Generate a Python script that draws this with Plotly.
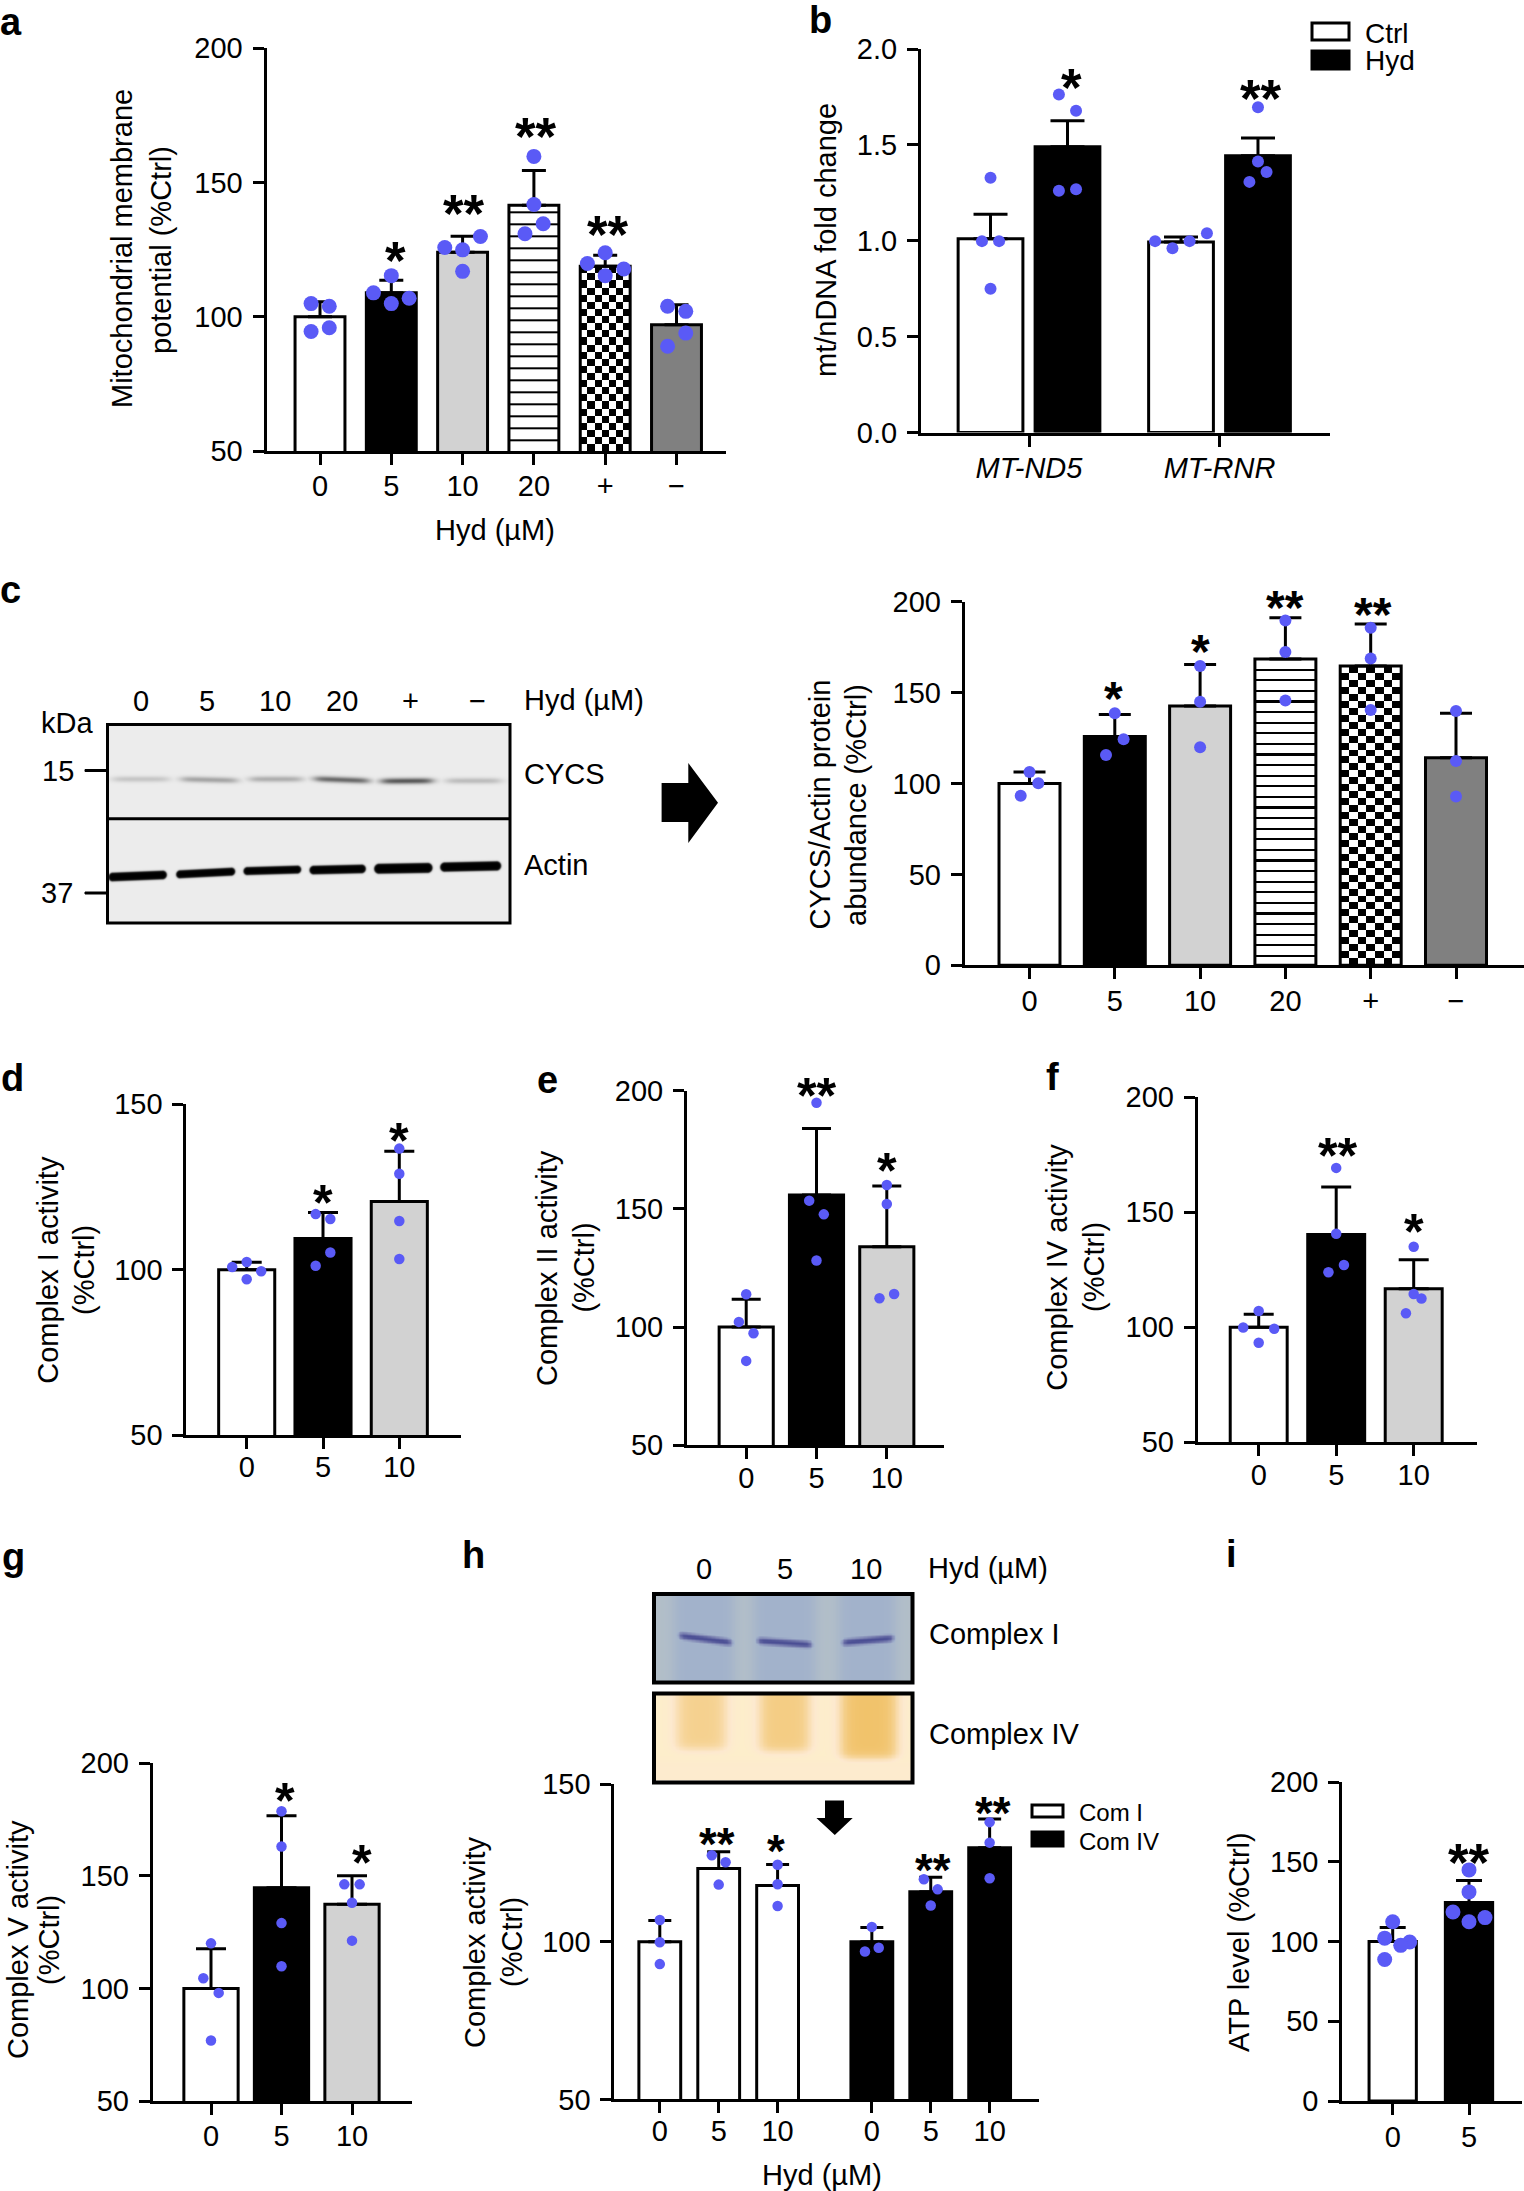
import numpy as np
import plotly.graph_objects as go

W, H = 1524, 2191
FONT = "Liberation Sans"
DOT = "#5a5af6"
WHITE, BLACK, GRAY, DARK, TRANSP = "#ffffff", "#000000", "#d2d2d2", "#808080", "rgba(0,0,0,0)"

# ---------------- data ----------------
a_labels = ["0", "5", "10", "20", "+", "\u2212"]
a_vals = [100, 108.9, 124, 141.5, 118.8, 97]
a_tops = [105.6, 113.6, 130, 154.5, 122.9, 104.5]
a_pts = [[104.9, 103.9, 94.5, 95.9], [108.9, 115.3, 106.9, 104.9], [125.8, 129.9, 124.9, 116.9],
         [159.7, 141.8, 134.6, 130.9], [119.8, 123.8, 117.8, 115.3], [103.9, 102, 93.9, 89]]
a_off = [[-.125, .13, -.125, .13], [-.25, 0, .25, 0], [-.25, .25, 0, 0],
         [0, 0, .13, -.125], [-.25, 0, .26, 0], [-.125, .13, .13, -.125]]

b_labels = ["<i>MT-ND5</i>", "<i>MT-RNR</i>"]
b_vals = [1.011, 1.49, .993, 1.443]
b_tops = [1.138, 1.626, 1.02, 1.536]
b_pts = [[1.328, .998, .998, .75], [1.763, 1.678, 1.261, 1.268],
         [.998, .961, .998, 1.039], [1.696, 1.413, 1.359, 1.307]]
b_off = [[0, -.045, .045, 0], [-.045, .045, -.045, .045], [-.136, -.045, .045, .136], [0, 0, .045, -.045]]

c_labels = ["0", "5", "10", "20", "+", "\u2212"]
c_vals = [100, 125.8, 142.6, 168.5, 164.6, 114.2]
c_tops = [106.3, 138, 165.5, 191.2, 187.7, 138.6]
c_pts = [[106.3, 100.1, 93.3], [138.6, 124.3, 115.7], [164.6, 145, 119.9],
         [189.6, 172.3, 145.7], [185.7, 168.8, 140.4], [139.9, 112.4, 92.8]]
c_off = [[0, .103, -.103], [0, .103, -.103], [0, 0, 0], [0, 0, 0], [0, 0, 0], [0, 0, 0]]

d_labels = ["0", "5", "10"]
d_vals = [100, 109.4, 120.6]
d_tops = [102.2, 117.3, 135.8]
d_pts = [[102.3, 100.8, 99.5, 97.1], [116.8, 115.3, 105.2, 101.2], [136.6, 129, 114.7, 103.2]]
d_off = [[0, -.19, .19, 0], [-.096, .096, .096, -.096], [0, 0, 0, 0]]

e_labels = ["0", "5", "10"]
e_vals = [100, 155.9, 134]
e_tops = [111.8, 184, 159.7]
e_pts = [[113.9, 102.2, 97.4, 85.7], [194.9, 153.5, 147.7, 128.2], [160.1, 152.1, 114, 112.2]]
e_off = [[0, -.104, .104, 0], [0, -.104, .104, 0], [0, 0, .104, -.104]]

f_labels = ["0", "5", "10"]
f_vals = [100, 140.4, 116.8]
f_tops = [105.7, 161, 129.4]
f_pts = [[107.1, 99.9, 99.4, 93.3], [169.3, 140.7, 127.1, 123.9], [135, 114.5, 112.5, 106.1]]
f_off = [[0, -.2, .2, 0], [0, 0, .1, -.1], [0, 0, .1, -.1]]

g_labels = ["0", "5", "10"]
g_vals = [100, 144.7, 137.4]
g_tops = [117.6, 176.7, 150]
g_pts = [[120, 104.5, 98, 76.9], [178.7, 163, 129, 109.8], [146.2, 146.2, 138, 121.2]]
g_off = [[0, -.109, .109, 0], [0, 0, 0, 0], [-.109, .109, 0, 0]]

h_labels = ["0", "5", "10", "0", "5", "10"]
h_vals = [100, 123.2, 117.8, 100, 115.8, 129.8]
h_tops = [106.7, 128.5, 124.5, 104.5, 120.4, 138.9]
h_pts = [[106.9, 99.8, 92.9], [127.4, 125.2, 118.1], [124.4, 118.2, 111.3],
         [104.7, 98.1, 96.9], [119.8, 116.6, 111.5], [137.9, 131.4, 120.1]]
h_off = [[0, 0, 0], [-.117, .117, 0], [0, 0, 0], [0, .117, -.117], [-.117, .117, 0], [0, 0, 0]]

i_labels = ["0", "5"]
i_vals = [100, 124.5]
i_tops = [108.7, 138.3]
i_pts = [[112.4, 102.1, 99.7, 97.6, 88.7], [144.9, 131.1, 118.5, 115, 112.4]]
i_off = [[0, -.105, .223, .105, -.105], [0, 0, -.21, .21, 0]]

FIVE = [WHITE, BLACK, GRAY, TRANSP, TRANSP, DARK]

# ---------------- helpers ----------------
traces, shapes, notes, axes = [], [], [], {}


def px(x):
    return x / W


def py(y):
    return 1 - y / H


def T(x, y, text, size=29, anchor="center", angle=0, bold=False):
    notes.append(dict(x=px(x), y=py(y), xref="paper", yref="paper", text=f"<b>{text}</b>" if bold else text,
                      showarrow=False, xanchor=anchor, yanchor="middle", textangle=angle, borderpad=0,
                      font=dict(family=FONT, size=size, color=BLACK)))


def star(x, y, n=1, size=44):
    s = size * 1.2
    T(x, y + 0.13 * s, "*" * n, size=s, bold=True)


def poly(points, fill=BLACK):
    d = "M" + " L".join(f"{px(a):.5f},{py(b):.5f}" for a, b in points) + " Z"
    shapes.append(dict(type="path", path=d, xref="paper", yref="paper", fillcolor=fill, line=dict(width=0)))


def box(x0, y0, x1, y1, fill=TRANSP, lw=3):
    shapes.append(dict(type="rect", xref="paper", yref="paper", x0=px(x0), x1=px(x1), y0=py(y0), y1=py(y1),
                       fillcolor=fill, line=dict(color=BLACK, width=lw)))


def panel(i, vals, tops, pts, off, xs, tickx, labels, geo, colors=None, stripe=None, period=12,
          check=None, width=.72, msize=11, cap=15, yticks=(), ytext=None, fs=29, lw=3, xstand=-4):
    left, right, top, bot, t0, step = geo
    ymin, ymax = yticks[0], yticks[-1]
    sfx = "" if i == 1 else str(i)
    xr = [tickx[0] - (t0 - left) / step, tickx[0] + (right - t0) / step]
    tick = dict(ticks="outside", ticklen=11, tickwidth=lw, tickcolor=BLACK, showline=True, linewidth=lw,
                linecolor=BLACK, showgrid=False, zeroline=False, automargin=False,
                tickfont=dict(family=FONT, size=fs, color=BLACK))
    axes[f"xaxis{sfx}"] = dict(domain=[px(left), px(right)], range=xr, anchor=f"y{sfx}", tickmode="array",
                               tickvals=tickx, ticktext=labels, fixedrange=True, ticklabelstandoff=xstand, **tick)
    axes[f"yaxis{sfx}"] = dict(domain=[py(bot), py(top)], range=[ymin, ymax], anchor=f"x{sfx}", tickmode="array",
                               tickvals=list(yticks), ticktext=ytext or [str(v) for v in yticks], fixedrange=True,
                               ticklabelstandoff=4, **tick)
    n = len(vals)
    colors = colors or [WHITE] * n
    upp = (ymax - ymin) / (bot - top)  # data units per pixel
    if stripe is not None:
        xe = [xs[stripe] - width / 2, xs[stripe] + width / 2]
        hpx = (vals[stripe] - ymin) / upp
        ye, z, pos = [ymin], [], 0.0
        while pos < hpx:
            pos = min(pos + period - 2.2, hpx)
            ye.append(ymin + pos * upp)
            z.append([0, 0])
            if pos < hpx:
                pos = min(pos + 2.2, hpx)
                ye.append(ymin + pos * upp)
                z.append([1, 1])
        xe = [xe[0], xs[stripe], xe[1]]
        traces.append(go.Heatmap(x=xe, y=ye, z=z, zmin=0, zmax=1, showscale=False, hoverinfo="skip",
                                 colorscale=[[0, WHITE], [1, BLACK]], xaxis=f"x{sfx}", yaxis=f"y{sfx}"))
    if check is not None:
        xe = np.linspace(xs[check] - width / 2, xs[check] + width / 2, 8)
        rows = max(1, int(round((vals[check] - ymin) / upp / 7)))
        ye = np.linspace(ymin, vals[check], rows + 1)
        z = [[(r + c) % 2 for c in range(7)] for r in range(rows)]
        traces.append(go.Heatmap(x=xe, y=ye, z=z, zmin=0, zmax=1, showscale=False, hoverinfo="skip",
                                 colorscale=[[0, WHITE], [1, BLACK]], xaxis=f"x{sfx}", yaxis=f"y{sfx}"))
    traces.append(go.Bar(x=xs, y=vals, width=width, xaxis=f"x{sfx}", yaxis=f"y{sfx}", showlegend=False,
                         marker=dict(color=colors, line=dict(color=BLACK, width=lw)),
                         error_y=dict(type="data", symmetric=False, array=[t - v for t, v in zip(tops, vals)],
                                      arrayminus=[0] * n, color=BLACK, thickness=lw, width=cap)))
    dx = [x + o for x, os, ps in zip(xs, off, pts) for o, _ in zip(os, ps)]
    dy = [p for ps in pts for p in ps]
    traces.append(go.Scatter(x=dx, y=dy, mode="markers", xaxis=f"x{sfx}", yaxis=f"y{sfx}", showlegend=False,
                             cliponaxis=False, marker=dict(color=DOT, size=msize, line=dict(width=0))))


def hidden_axes(i, x0, x1, y0, y1, xr, yr):
    axes[f"xaxis{i}"] = dict(domain=[px(x0), px(x1)], range=xr, visible=False, anchor=f"y{i}", fixedrange=True)
    axes[f"yaxis{i}"] = dict(domain=[py(y1), py(y0)], range=yr, visible=False, anchor=f"x{i}", fixedrange=True)


def soft(v, a, b, s):
    return 1 / (1 + np.exp(-(v - a) / s)) * 1 / (1 + np.exp((v - b) / s))


# ---------------- panels ----------------
R6 = list(range(6))
R3 = list(range(3))
panel(1, a_vals, a_tops, a_pts, a_off, R6, R6, a_labels, (266.5, 726, 48.2, 451, 320, 71.3), FIVE, 3, 12,
      check=4, width=.7, msize=15, cap=12, yticks=(50, 100, 150, 200), xstand=-4)
panel(2, b_vals, b_tops, b_pts, b_off, [-.202, .202, .798, 1.202], [0, 1], b_labels,
      (921, 1330, 49, 432.5, 1029, 190.5), [WHITE, BLACK, WHITE, BLACK], width=.34, msize=12, cap=17,
      yticks=(0, .5, 1, 1.5, 2), ytext=["0.0", "0.5", "1.0", "1.5", "2.0"], xstand=-3)
panel(3, c_vals, c_tops, c_pts, c_off, R6, R6, c_labels, (964.7, 1524, 601.7, 965.3, 1029.5, 85.3), FIVE, 3, 10.6,
      check=4, width=.715, msize=12, cap=16, yticks=(0, 50, 100, 150, 200), xstand=-3)
panel(4, d_vals, d_tops, d_pts, d_off, R3, R3, d_labels, (186.4, 461, 1104.3, 1435, 246.7, 76.3),
      [WHITE, BLACK, GRAY], width=.735, msize=10.5, cap=15, yticks=(50, 100, 150), xstand=-7)
panel(5, e_vals, e_tops, e_pts, e_off, R3, R3, e_labels, (687, 944, 1090.7, 1445.3, 746.2, 70.3),
      [WHITE, BLACK, GRAY], width=.77, msize=10.5, cap=14.5, yticks=(50, 100, 150, 200), xstand=-6)
panel(6, f_vals, f_tops, f_pts, f_off, R3, R3, f_labels, (1197.7, 1477, 1097.3, 1442.3, 1258.7, 77.5),
      [WHITE, BLACK, GRAY], width=.735, msize=10.5, cap=15, yticks=(50, 100, 150, 200), xstand=-6)
panel(7, g_vals, g_tops, g_pts, g_off, R3, R3, g_labels, (152.7, 411.7, 1763.2, 2101, 211, 70.5),
      [WHITE, BLACK, GRAY], width=.77, msize=10.5, cap=15, yticks=(50, 100, 150, 200), xstand=-4)
h_x = [0, 1, 2, 3.6, 4.6, 5.6]
panel(8, h_vals, h_tops, h_pts, h_off, h_x, h_x, h_labels, (614.4, 1038.6, 1784, 2099.4, 659.8, 58.9),
      [WHITE] * 3 + [BLACK] * 3, width=.71, msize=10.5, cap=11.5, yticks=(50, 100, 150), xstand=-7)
panel(9, i_vals, i_tops, i_pts, i_off, [0, 1], [0, 1], i_labels, (1342.3, 1522, 1782, 2101, 1392.7, 76.3),
      [WHITE, BLACK], width=.62, msize=15, cap=13, yticks=(0, 50, 100, 150, 200), xstand=-3)

# ---------------- text ----------------
for s, x, y in [("a", 11, 22), ("b", 820, 20), ("c", 10, 590), ("d", 12, 1078), ("e", 547, 1080), ("f", 1052, 1077),
                ("g", 13, 1557), ("h", 473, 1555), ("i", 1231, 1554)]:
    T(x, y, s, size=38, bold=True)

T(122, 249, "Mitochondrial membrane", angle=-90)
T(161, 250, "potential (%Ctrl)", angle=-90)
T(495, 530, "Hyd (\u00b5M)")
T(826, 240, "mt/nDNA fold change", angle=-90)
T(819.5, 805, "CYCS/Actin protein", angle=-90)
T(856, 805, "abundance (%Ctrl)", angle=-90)
T(47.8, 1270, "Complex I activity", angle=-90)
T(84, 1270, "(%Ctrl)", angle=-90)
T(547, 1268, "Complex II activity", angle=-90)
T(583.6, 1268, "(%Ctrl)", angle=-90)
T(1056.7, 1267, "Complex IV activity", angle=-90)
T(1094, 1267, "(%Ctrl)", angle=-90)
T(18, 1940, "Complex V activity", angle=-90)
T(49, 1940, "(%Ctrl)", angle=-90)
T(475, 1942, "Complex activity", angle=-90)
T(512, 1942, "(%Ctrl)", angle=-90)
T(1239, 1942, "ATP level (%Ctrl)", angle=-90)
T(822, 2175, "Hyd (\u00b5M)")

# stars
star(395, 254); star(464, 207, 2); star(536, 130, 2); star(608, 228, 2)
star(1071, 81); star(1261, 92, 2)
star(1113, 692, 1, 40); star(1200, 645, 1, 40); star(1285, 601, 2, 40); star(1373, 608, 2, 40)
star(323, 1196, 1, 42); star(399, 1134, 1, 42)
star(817, 1089, 2, 42); star(887, 1164, 1, 42)
star(1338, 1149, 2, 42); star(1414, 1225, 1, 42)
star(285, 1794, 1, 42); star(362, 1856, 1, 42)
star(717, 1839, 2, 38); star(776, 1846, 1, 38); star(933.5, 1865, 2, 38); star(993, 1808, 2, 38)
star(1469, 1856, 2, 44)

# legends
box(1312, 23, 1349, 40, WHITE)
box(1312, 51, 1349, 69, BLACK)
T(1364, 33, "Ctrl", size=28, anchor="left")
T(1364, 61, "Hyd", size=28, anchor="left")
box(1032, 1805, 1063, 1817, WHITE)
box(1032, 1832, 1063, 1846, BLACK)
T(1077.6, 1812, "Com I", size=24, anchor="left")
T(1077.6, 1841, "Com IV", size=24, anchor="left")

# arrows
poly([(661.6, 783), (688.3, 783), (688.3, 763), (718, 802.7), (688.3, 843), (688.3, 822), (661.6, 822)])
poly([(825, 1800.6), (844, 1800.6), (844, 1818), (852.7, 1818), (834.8, 1835), (816.4, 1818), (825, 1818)])

# ---------------- western blot (panel c) ----------------
for s, x in zip(c_labels, [140.6, 207.5, 275, 342, 410, 477]):
    T(x, 701, s)
T(522.5, 700, "Hyd (\u00b5M)", anchor="left")
T(67, 723, "kDa")
T(58, 771, "15")
T(57, 893, "37")
T(522.5, 774, "CYCS", anchor="left")
T(522.5, 865, "Actin", anchor="left")
box(85, 769.5, 107, 771.5, BLACK, 1)
box(85, 892, 107, 894, BLACK, 1)

gx = np.arange(22, 1232, 3.0)
gy = np.arange(15, 608, 3.0)
XX, YY = np.meshgrid(gx, gy)
Z = np.zeros_like(XX)
cycs_bands = [(40, 205, 176, 176, .16), (245, 410, 176, 180, .3), (450, 605, 176, 176, .26),
              (645, 805, 175, 181, .55), (845, 995, 182, 181, .62), (1040, 1200, 181, 181, .2)]
actin_bands = [(25, 200, 470, 463, 13), (228, 405, 462, 453, 12), (430, 603, 452, 447, 12),
               (628, 797, 449, 445, 13), (822, 997, 445, 442, 15), (1020, 1203, 440, 436, 14)]
for a, b, y0, y1, st in cycs_bands:
    cy = y0 + (y1 - y0) * (XX - a) / (b - a)
    Z = np.maximum(Z, st * soft(XX, a, b, 10) * np.exp(-((YY - cy) / 9) ** 2))
for a, b, y0, y1, th in actin_bands:
    cy = y0 + (y1 - y0) * (XX - a) / (b - a)
    ddx = np.maximum(np.maximum(a + th - XX, XX - (b - th)), 0)
    dist = np.sqrt(ddx ** 2 + (YY - cy) ** 2)
    Z = np.maximum(Z, 1 / (1 + np.exp((dist - th) / 1.5)))
hidden_axes(10, 107, 510, 725, 922, [22, 1230], [607, 16])
traces.append(go.Heatmap(x=gx, y=gy, z=np.round(Z, 3), zmin=0, zmax=1, zsmooth="best", showscale=False, hoverinfo="skip",
                         colorscale=[[0, "#ececec"], [1, "#000000"]], xaxis="x10", yaxis="y10"))
box(107.5, 724.5, 510, 923, lw=3)
shapes.append(dict(type="line", xref="paper", yref="paper", x0=px(107.5), x1=px(510), y0=py(818.7), y1=py(818.7),
                   line=dict(color=BLACK, width=3)))

# ---------------- gels (panel h) ----------------
for s, x in zip(["0", "5", "10"], [704, 784.7, 865.5]):
    T(x, 1569, s)
T(926.6, 1568, "Hyd (\u00b5M)", anchor="left")
T(928.4, 1634, "Complex I", anchor="left")
T(928.4, 1734, "Complex IV", anchor="left")

bx = np.arange(30, 802, 4.0)
by = np.arange(30, 292, 4.0)
BX, BY = np.meshgrid(bx, by)
B = np.zeros_like(BX)
for a, b in [(85, 265), (325, 510), (580, 750)]:
    B = np.maximum(B, .22 * soft(BX, a, b, 10))
B = B + .03
for a, b, y0, y1 in [(100, 260, 150, 172), (335, 500, 166, 178), (590, 745, 172, 158)]:
    cy = y0 + (y1 - y0) * (BX - a) / (b - a)
    B = np.maximum(B, .95 * soft(BX, a, b, 5) * np.exp(-((BY - cy) / 14) ** 2))
hidden_axes(11, 655, 911.7, 1595, 1681.7, [30, 800], [290, 30])
traces.append(go.Heatmap(x=bx, y=by, z=np.round(B, 3), zmin=0, zmax=1, zsmooth="best", showscale=False, hoverinfo="skip",
                         colorscale=[[0, "#b4c0c8"], [.25, "#a2b2cb"], [.6, "#7f86b4"], [1, "#43468f"]],
                         xaxis="x11", yaxis="y11"))
box(654, 1594, 912.5, 1682.5, lw=4)

oy = np.arange(330, 588, 4.0)
OX, OY = np.meshgrid(bx, oy)
O = .07 * soft(OY, 525, 600, 8)
for a, b, y1, st in [(95, 240, 490, .5), (345, 490, 495, .6), (590, 750, 515, .82)]:
    O = np.maximum(O, st * soft(OX, a, b, 12) * soft(OY, 300, y1, 8))
hidden_axes(12, 655, 911.7, 1695, 1780.5, [30, 800], [585, 330])
traces.append(go.Heatmap(x=bx, y=oy, z=np.round(O, 3), zmin=0, zmax=1, zsmooth="best", showscale=False, hoverinfo="skip",
                         colorscale=[[0, "#fdeecb"], [.1, "#fde9cf"], [.5, "#f5d18f"], [1, "#efbb57"]],
                         xaxis="x12", yaxis="y12"))
box(654, 1693.5, 912.5, 1782.5, lw=4)

fig = go.Figure(traces)
fig.update_layout(template="none", width=W, height=H, margin=dict(l=0, r=0, t=0, b=0, pad=0), autosize=False, showlegend=False,
                  paper_bgcolor=WHITE, plot_bgcolor=WHITE, barmode="overlay",
                  font=dict(family=FONT, color=BLACK), shapes=shapes, annotations=notes, **axes)
fig.write_html("out.html", post_script="document.body.style.margin='0';", config=dict(displayModeBar=False))
